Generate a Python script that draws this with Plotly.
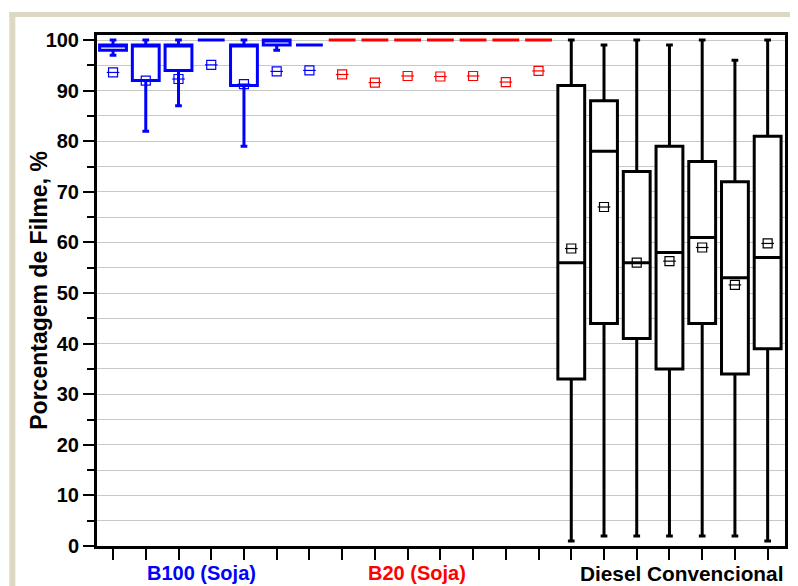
import plotly.graph_objects as go

# ---------------- data ----------------
groups = ["B100 (Soja)", "B20 (Soja)", "Diesel Convencional"]
group_colors = ["#0000FF", "#FF0000", "#000000"]

# B100 (Soja) - 7 samples
b100_q1 = [98, 92, 94, 100, 91, 99, 99]
b100_median = [99, 99, 99, 100, 99, 100, 99]
b100_q3 = [99, 99, 99, 100, 99, 100, 99]
b100_low = [97, 82, 87, 100, 79, 98, 99]
b100_high = [100, 100, 100, 100, 100, 100, 99]
b100_mean = [93.6, 92.0, 92.3, 95.1, 91.3, 93.8, 94.0]

# B20 (Soja) - 7 samples
b20_q1 = [100, 100, 100, 100, 100, 100, 100]
b20_median = [100, 100, 100, 100, 100, 100, 100]
b20_q3 = [100, 100, 100, 100, 100, 100, 100]
b20_low = [100, 100, 100, 100, 100, 100, 100]
b20_high = [100, 100, 100, 100, 100, 100, 100]
b20_mean = [93.2, 91.6, 92.9, 92.8, 92.9, 91.7, 93.9]

# Diesel Convencional - 7 samples
dsl_q1 = [33, 44, 41, 35, 44, 34, 39]
dsl_median = [56, 78, 56, 58, 61, 53, 57]
dsl_q3 = [91, 88, 74, 79, 76, 72, 81]
dsl_low = [1, 2, 2, 2, 2, 2, 1]
dsl_high = [100, 99, 100, 99, 100, 96, 100]
dsl_mean = [58.8, 67.0, 56.0, 56.3, 59.0, 51.6, 59.8]

y_ticks = [0, 10, 20, 30, 40, 50, 60, 70, 80, 90, 100]
y_title = "Porcentagem de Filme, %"

# ---------------- figure ----------------
series = [
    (b100_q1, b100_median, b100_q3, b100_low, b100_high, b100_mean),
    (b20_q1, b20_median, b20_q3, b20_low, b20_high, b20_mean),
    (dsl_q1, dsl_median, dsl_q3, dsl_low, dsl_high, dsl_mean),
]

fig = go.Figure()
all_x = []
offset = 0
for (q1, med, q3, lo, hi, mean), col in zip(series, group_colors):
    xs = [offset + i for i in range(len(q1))]
    all_x += xs
    offset += len(q1)
    fig.add_trace(go.Box(
        x=xs, q1=q1, median=med, q3=q3, lowerfence=lo, upperfence=hi,
        width=0.82, whiskerwidth=0.25, boxpoints=False,
        line=dict(color=col, width=3), fillcolor="white",
        showlegend=False, hoverinfo="skip",
    ))
    fig.add_trace(go.Scatter(
        x=xs, y=mean, mode="markers", showlegend=False, hoverinfo="skip",
        marker=dict(symbol="square-open", size=9, color=col,
                    line=dict(color=col, width=1.2)),
    ))
    fig.add_trace(go.Scatter(
        x=xs, y=mean, mode="markers", showlegend=False, hoverinfo="skip",
        marker=dict(symbol="line-ew", size=9, color=col,
                    line=dict(color=col, width=1.2)),
    ))

font_family = "Liberation Sans, Arial, sans-serif"

# the page body adds an 8 px margin, so the figure is sized/margined to compensate
fig.update_layout(
    width=790, height=578,
    margin=dict(l=89, r=10, t=27, b=40),
    paper_bgcolor="white", plot_bgcolor="white",
    boxmode="overlay",
    font=dict(family=font_family, color="black"),
    xaxis=dict(
        range=[-0.49, 20.53], tickvals=all_x, ticktext=[""] * len(all_x),
        showticklabels=False, ticks="outside", ticklen=11, tickwidth=2,
        tickcolor="black", showgrid=False, zeroline=False,
        showline=True, linecolor="black", linewidth=3, mirror=True,
    ),
    yaxis=dict(
        range=[0, 101], tickvals=y_ticks, ticks="outside", ticklen=11,
        tickwidth=2, tickcolor="black",
        tickfont=dict(size=20, family=font_family, weight="bold", color="black"),
        showgrid=True, gridcolor="#C8C8C8", gridwidth=1, zeroline=False,
        showline=True, linecolor="black", linewidth=3, mirror=True,
        minor=dict(dtick=5, ticks="outside", ticklen=7, tickwidth=2,
                   tickcolor="black", showgrid=True, gridcolor="#C8C8C8",
                   gridwidth=1),
    ),
)

# y-axis title
fig.add_annotation(
    text=y_title, xref="paper", yref="paper", x=-0.0854, y=0.5,
    xanchor="center", yanchor="middle", textangle=-90, showarrow=False,
    font=dict(size=23, family=font_family, weight="bold", color="black"),
)

# group labels below x axis
label_x = [2.7, 9.29, 17.38]
label_size = [20, 20, 20.8]
for name, col, lx, fs in zip(groups, group_colors, label_x, label_size):
    fig.add_annotation(
        text=name, xref="x", yref="paper", x=lx, y=-0.053,
        xanchor="center", yanchor="middle", showarrow=False,
        font=dict(size=fs, family=font_family, weight="bold", color=col),
    )

# beige picture frame
beige = "#DDD8C3"
fig.add_shape(type="rect", xref="paper", yref="paper",
              x0=-0.1274, x1=-0.1187, y0=-0.08, y1=1.045,
              fillcolor=beige, line=dict(width=0), layer="above")
fig.add_shape(type="rect", xref="paper", yref="paper",
              x0=-0.1274, x1=1.02, y0=1.035, y1=1.045,
              fillcolor=beige, line=dict(width=0), layer="above")

fig.write_html("out.html")
